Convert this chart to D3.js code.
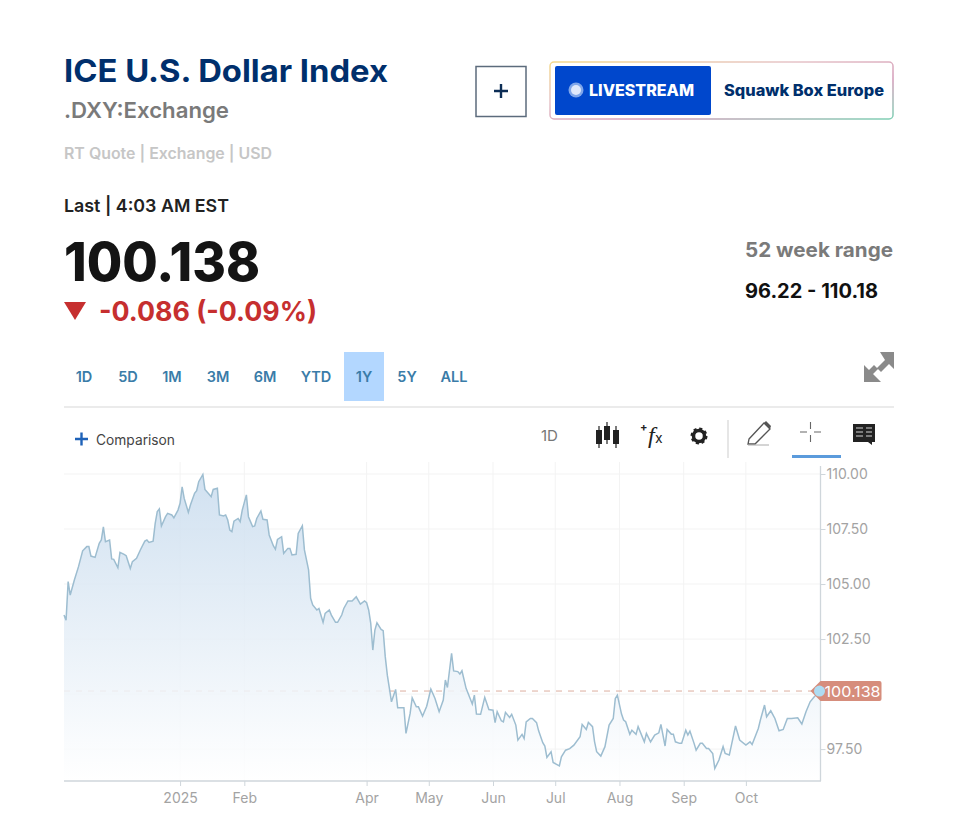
<!DOCTYPE html>
<html>
<head>
<meta charset="utf-8">
<script src="https://cdn.jsdelivr.net/npm/d3@7"></script>
<style>
  html, body { margin: 0; background: #fff; }
  svg { display: block; font-family: Inter, "Open Sans", sans-serif; }
  .axis path { display: none; }
  .axis text { fill: #a3a3a3; font-size: 14px; font-family: Inter, sans-serif; }
  .axis line { stroke: #cfd6db; }
</style>
</head>
<body>
<svg id="chart" width="959" height="817"></svg>
<script>
// days since 2024-11-06
const days = [0,1,2,3,5,7,9,11,12,13,15,17,18,19,20,22,23,24,26,27,29,30,32,33,35,37,39,40,41,43,44,45,46,47,49,50,52,53,55,56,57,58,60,61,63,64,65,67,68,70,71,72,74,75,77,78,79,80,81,82,84,85,86,88,89,91,92,93,95,96,98,99,101,102,103,105,106,108,109,110,112,113,115,116,118,119,120,122,123,125,126,128,129,131,132,134,135,137,139,141,143,145,146,147,148,149,150,151,153,154,155,156,157,158,160,161,164,165,167,168,170,171,173,175,177,179,181,183,184,185,187,188,190,191,192,194,197,198,199,201,203,205,207,208,209,211,212,213,215,216,218,219,221,222,223,225,226,228,229,231,232,233,235,236,239,240,242,244,246,249,250,252,253,255,256,257,259,261,263,265,266,267,269,270,271,273,274,276,277,280,281,283,285,287,288,290,291,293,294,295,297,298,300,301,302,304,305,307,308,310,311,313,314,316,318,319,321,324,326,329,331,332,335,336,338,339,341,343,345,347,349,351,354,356,358,360,362,365];
const closes = [103.59,103.36,105.11,104.5,105.18,105.79,106.51,106.7,106.7,106.27,106.21,106.85,107,107.6,106.92,107,106.14,106.12,105.74,106.44,106.35,106.29,105.71,106.02,106.17,106.58,106.95,107,106.89,106.95,107.76,108.29,108.41,107.64,108.06,108.21,108.14,108.01,108.36,108.67,109.42,108.89,108.26,108.59,109.12,109.24,109.65,109.98,109.3,109.08,108.97,109.3,109.35,108.14,108.09,108.14,107.91,107.45,107.38,107.86,107.98,107.83,108.36,109.05,108.06,107.61,107.64,107.98,108.32,107.94,107.91,107.23,106.74,106.58,107.03,107.15,106.39,106.62,106.62,106.32,106.35,107.3,107.65,106.55,105.64,104.35,104.05,103.82,103.89,103.26,103.67,103.82,103.59,103.26,103.26,103.59,103.89,104.23,104.23,104.42,104.09,104.23,104.15,103.82,103.21,102,102.91,103.24,102.94,102.88,101.7,100.86,100.26,99.65,100.21,99.38,99.38,98.21,99.12,99.83,99.42,99.42,99,99.45,100.23,99.8,99.2,99.73,100.64,100.3,101.85,101.05,101.02,100.91,101.06,100.26,99.55,99.95,99.09,99.08,99.85,99.3,99.27,98.7,99.2,98.79,98.74,99.17,98.94,99.08,98.59,97.91,98.17,97.98,98.74,98.89,98.89,98.7,98.33,97.79,97.64,97.12,97.38,96.89,96.74,97.15,97.45,97.52,97.68,98.06,98.62,98.39,98.71,98.52,97.83,97.38,97.18,97.61,98.59,98.89,99.8,99.95,99.09,98.82,98.74,98.17,98.36,98.17,98.52,97.83,98.21,97.83,98.14,98.24,98.62,97.64,98.39,98.18,98.18,97.83,97.76,97.76,98.36,98.14,98.32,97.76,97.45,97.76,97.76,97.53,97.53,97.3,96.62,97,97.61,97.3,97.23,98.55,97.91,97.68,97.83,97.71,98.44,98.82,99.5,98.97,99.24,98.89,98.33,98.39,98.89,98.89,98.92,98.64,99.2,99.65,99.88,100.138];
const startDate = new Date(2024, 10, 6);
const lastValue = 100.138;
const yTicks = [97.5, 102.5, 105, 107.5, 110];
const xTickDates = [[2025,0],[2025,1],[2025,3],[2025,4],[2025,5],[2025,6],[2025,7],[2025,8],[2025,9]];
const xTickLabels = ['2025','Feb','Apr','May','Jun','Jul','Aug','Sep','Oct'];
const rangeLabels = ['1D','5D','1M','3M','6M','YTD','1Y','5Y','ALL'];
const rangeCenters = [84,128,172,218,265,316,364,407,454];

const svg = d3.select('#chart');
const defs = svg.append('defs');

const plotLeft = 64, plotRight = 820.5, plotTop = 474, plotBottom = 781;

const series = days.map((d, i) => ({ date: d3.timeDay.offset(startDate, d), value: closes[i] }));
const x = d3.scaleTime().domain([startDate, d3.timeDay.offset(startDate, 365)]).range([plotLeft, plotRight]);
const y = d3.scaleLinear().domain([110, 96.05]).range([plotTop, plotBottom]);
const tickDates = xTickDates.map(([yr, mo]) => new Date(yr, mo, 1));

// fixed-width text, the reference font is not installed
function label(txt, px, py, size, weight, color, width, anchor) {
  const t = svg.append('text').attr('x', px).attr('y', py)
    .attr('font-size', size).attr('font-weight', weight).attr('fill', color)
    .attr('text-anchor', anchor || 'start').text(txt);
  if (width) t.attr('textLength', width).attr('lengthAdjust', 'spacingAndGlyphs');
  return t;
}

// header
label('ICE U.S. Dollar Index', 64, 82, 31, 700, '#002f6c', 324);
label('.DXY:Exchange', 64, 118, 22, 600, '#7a7a7a', 165);
label('RT Quote | Exchange | USD', 64, 159, 15.5, 600, '#c6c6c6', 208);
label('Last | 4:03 AM EST', 64, 212, 17.5, 600, '#222', 165);
label('100.138', 64, 281, 54, 800, '#141414', 196);
svg.append('path').attr('d', 'M64,302H86L75,320Z').attr('fill', '#c62f2f');
label('-0.086 (-0.09%)', 99, 321, 27, 700, '#c62f2f', 218);
label('52 week range', 745, 257, 20, 700, '#7a7a7a', 148);
label('96.22 - 110.18', 745, 298, 19.5, 700, '#111', 133);

// add button and livestream pill
svg.append('rect').attr('x', 476).attr('y', 66.5).attr('width', 50).attr('height', 50)
  .attr('fill', 'none').attr('stroke', '#5c6b7c').attr('stroke-width', 1.5);
svg.append('path').attr('d', 'M494,91H508M501,84V98').attr('stroke', '#0c2d55').attr('stroke-width', 2.4);

const pillGrad = defs.append('linearGradient').attr('id', 'pillBorder')
  .attr('x1', 0).attr('y1', 0).attr('x2', 1).attr('y2', 1);
[['0%', '#f4d98c'], ['35%', '#e6c4c8'], ['65%', '#d39ab8'], ['100%', '#7fd0b4']].forEach(([o, c]) =>
  pillGrad.append('stop').attr('offset', o).attr('stop-color', c));
svg.append('rect').attr('x', 550).attr('y', 62).attr('width', 343).attr('height', 57).attr('rx', 4)
  .attr('fill', '#fff').attr('stroke', 'url(#pillBorder)').attr('stroke-width', 1.5);
svg.append('rect').attr('x', 555).attr('y', 66).attr('width', 156).attr('height', 49).attr('rx', 2).attr('fill', '#0047cc');
svg.append('circle').attr('cx', 576).attr('cy', 90).attr('r', 7.5).attr('fill', '#7fa6ea');
svg.append('circle').attr('cx', 576).attr('cy', 90).attr('r', 5).attr('fill', '#dfe8fb');
label('LIVESTREAM', 589, 96, 15.5, 800, '#fff', 105);
label('Squawk Box Europe', 724, 96, 15.5, 800, '#002f6c', 160);

// range selector
svg.append('rect').attr('x', 344).attr('y', 352).attr('width', 40).attr('height', 49).attr('fill', '#b3d7ff');
rangeLabels.forEach((r, i) => label(r, rangeCenters[i], 382, 14.5, 600, '#3a7ca8', null, 'middle'));

// expand arrows
svg.append('path').attr('fill', '#8a8a8a')
  .attr('d', 'M894,352V369L889,364L881,372L877,368L885,360L880,352Z M864,382V365L869,370L874,365L878,369L873,374L881,382Z');
svg.append('line').attr('x1', 64).attr('x2', 894).attr('y1', 407).attr('y2', 407).attr('stroke', '#e4e4e4').attr('stroke-width', 1.5);

// toolbar
svg.append('path').attr('d', 'M75,439H88M81.5,432.5V445.5').attr('stroke', '#1e62b8').attr('stroke-width', 2.4);
label('Comparison', 96, 445, 14, 400, '#444', 79);
label('1D', 541, 441, 15, 400, '#777', 17);
[[599, 430, 444], [607, 426, 440], [616, 430, 444]].forEach(([cx, y0, y1]) => {
  svg.append('rect').attr('x', cx - 3).attr('y', y0).attr('width', 6).attr('height', y1 - y0).attr('fill', '#222');
  svg.append('line').attr('x1', cx).attr('x2', cx).attr('y1', y0 - 4).attr('y2', y1 + 4).attr('stroke', '#222').attr('stroke-width', 1.2);
});
label('+', 640, 431, 11, 700, '#222');
label('f', 648, 443, 24, 400, '#222').attr('font-style', 'italic').attr('font-family', 'Liberation Serif');
label('x', 655, 443, 14, 400, '#222');
svg.append('circle').attr('cx', 699).attr('cy', 436).attr('r', 5.5)
  .attr('fill', 'none').attr('stroke', '#222').attr('stroke-width', 3.5);
svg.append('circle').attr('cx', 699).attr('cy', 436).attr('r', 7.2)
  .attr('fill', 'none').attr('stroke', '#222').attr('stroke-width', 2.6).attr('stroke-dasharray', '3 2.65');
svg.append('line').attr('x1', 728).attr('x2', 728).attr('y1', 420).attr('y2', 458).attr('stroke', '#dedede').attr('stroke-width', 1.5);
svg.append('path').attr('d', 'M749,439L764,423L770,429L755,444L748,444Z').attr('fill', 'none').attr('stroke', '#555').attr('stroke-width', 1.3);
svg.append('path').attr('d', 'M764,423L766,421L771,426L770,429Z').attr('fill', '#555');
svg.append('line').attr('x1', 748).attr('x2', 769).attr('y1', 445).attr('y2', 445).attr('stroke', '#aaa');
svg.append('path').attr('d', 'M800,432H807M814,432H821M810.5,422V429M810.5,435V442').attr('stroke', '#666').attr('stroke-width', 1.1);
svg.append('line').attr('x1', 792).attr('x2', 841).attr('y1', 456.5).attr('y2', 456.5).attr('stroke', '#5b9bdc').attr('stroke-width', 3);
svg.append('path').attr('d', 'M853,424H875V442H872V445L868,442H853Z').attr('fill', '#222');
svg.append('path').attr('d', 'M856,428H863M856,432H863M856,436H863M866,428H872M866,432H872M866,436H872').attr('stroke', '#999').attr('stroke-width', 1.5);

// grid
const grid = svg.append('g').attr('stroke', '#f3f3f3');
grid.selectAll('line.h').data(yTicks.concat(100)).join('line').attr('class', 'h')
  .attr('x1', plotLeft).attr('x2', plotRight).attr('y1', d => y(d)).attr('y2', d => y(d));
grid.selectAll('line.v').data(tickDates).join('line').attr('class', 'v')
  .attr('x1', d => x(d)).attr('x2', d => x(d)).attr('y1', 462).attr('y2', plotBottom);

// last price dashes sit under the area so they fade inside it
svg.append('line').attr('x1', plotLeft).attr('x2', plotRight).attr('y1', y(lastValue)).attr('y2', y(lastValue))
  .attr('stroke', '#dcae9f').attr('stroke-dasharray', '6 6');

// area and line
const fade = defs.append('linearGradient').attr('id', 'areaFade').attr('x1', 0).attr('y1', 0).attr('x2', 0).attr('y2', 1);
fade.append('stop').attr('offset', '0%').attr('stop-color', '#c9dcee');
fade.append('stop').attr('offset', '100%').attr('stop-color', '#ffffff');
const area = d3.area().x(d => x(d.date)).y0(plotBottom).y1(d => y(d.value));
const priceLine = d3.line().x(d => x(d.date)).y(d => y(d.value));
svg.append('path').datum(series).attr('d', area).attr('fill', 'url(#areaFade)').attr('fill-opacity', 0.85);
svg.append('path').datum(series).attr('d', priceLine).attr('fill', 'none').attr('stroke', '#9dbdd0').attr('stroke-width', 1.5);

// axes
svg.append('g').attr('class', 'axis').attr('transform', `translate(0,${plotBottom})`)
  .call(d3.axisBottom(x).tickValues(tickDates).tickSize(5).tickPadding(7)
    .tickFormat((d, i) => xTickLabels[i]));
svg.append('g').attr('class', 'axis').attr('transform', `translate(${plotRight},0)`)
  .call(d3.axisRight(y).tickValues(yTicks).tickSize(5).tickPadding(1).tickFormat(d3.format('.2f')));
svg.append('line').attr('x1', plotLeft).attr('x2', plotRight + 0.5).attr('y1', plotBottom).attr('y2', plotBottom).attr('stroke', '#cfd6db').attr('stroke-width', 1.3);
svg.append('line').attr('x1', plotRight).attr('x2', plotRight).attr('y1', 466).attr('y2', plotBottom).attr('stroke', '#cfd6db').attr('stroke-width', 1.3);

// last price badge
const ly = y(lastValue);
svg.append('path').attr('fill', '#d68d7c')
  .attr('d', `M${plotRight - 10},${ly}L${plotRight},${ly - 10}H${plotRight + 59}a2,2 0 0 1 2,2V${ly + 8}a2,2 0 0 1 -2,2H${plotRight}Z`);
svg.append('circle').attr('cx', x(series[series.length - 1].date) - 1).attr('cy', ly).attr('r', 5.5).attr('fill', '#aedcf2');
label(d3.format('.3f')(lastValue), plotRight + 4, ly + 5.5, 14.5, 400, '#fff', 56);
</script>
</body>
</html>
